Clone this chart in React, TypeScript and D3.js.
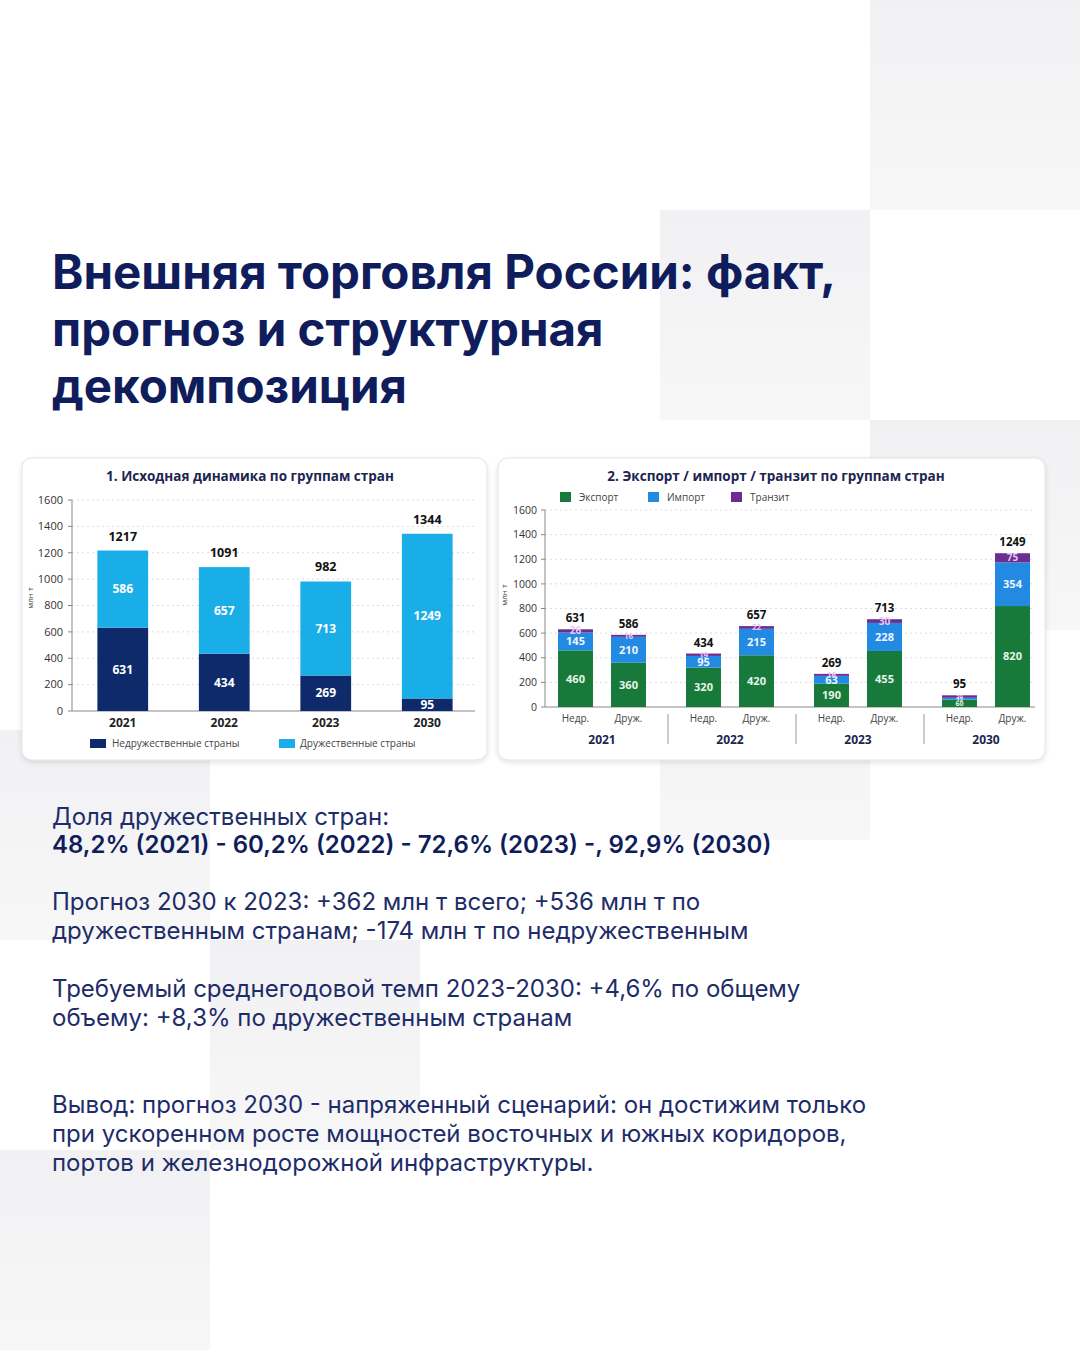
import React, { useEffect } from 'react';
import * as d3 from 'd3';

// Chart 1 — totals by country group
const years = ['2021', '2022', '2023', '2030'];
const unfriendly = [631, 434, 269, 95];
const friendly = [586, 657, 713, 1249];
const yTicks = [0, 200, 400, 600, 800, 1000, 1200, 1400, 1600];

// Chart 2 — export / import / transit per group
const subGroups = ['Недр.', 'Друж.'];
const exportVals = [460, 360, 320, 420, 190, 455, 60, 820];
const importVals = [145, 210, 95, 215, 63, 228, 15, 354];
const transitVals = [26, 16, 19, 22, 16, 30, 20, 75];

const titleLines = ['Внешняя торговля России: факт,', 'прогноз и структурная', 'декомпозиция'];

const NAVY = '#0f1d5c';
const TEXT = '#1e2c69';
const C_UNF = '#0f2a6b';
const C_FR = '#1aaee9';
const C_EXP = '#177a3b';
const C_IMP = '#238ae3';
const C_TR = '#6a2d92';
const CHART_FONT = '"Open Sans", "Noto Sans", sans-serif';

// background squares (x, y)
const squares = [
  [870, 0], [660, 210], [870, 420], [660, 630],
  [0, 730], [210, 940], [0, 1150],
];

function Chart1() {
  const y = d3.scaleLinear().domain([0, 1600]).range([711, 500]);
  const x = d3.scaleBand().domain(years).range([72, 478]).paddingInner(0.5).paddingOuter(0.25);
  const bw = x.bandwidth();
  return (
    <g fontFamily={CHART_FONT}>
      <rect x={22} y={458} width={465} height={302} rx={10} fill="#fff" stroke="#e4e4e8" filter="url(#cardShadow)" />
      <text x={250} y={481} textAnchor="middle" fontSize={13.5} fontWeight={700} fill="#1c2550">
        1. Исходная динамика по группам стран
      </text>
      {yTicks.map(t => (
        <g key={t}>
          {t > 0 && <line x1={72} x2={475} y1={y(t)} y2={y(t)} stroke="#dcdcdc" strokeDasharray="2,3" />}
          <line x1={68} x2={72} y1={y(t)} y2={y(t)} stroke="#888" />
          <text x={63} y={y(t)} dy="0.35em" textAnchor="end" fontSize={11} fill="#333">{t}</text>
        </g>
      ))}
      <line x1={72} x2={72} y1={500} y2={711} stroke="#888" />
      <line x1={72} x2={475} y1={711} y2={711} stroke="#888" />
      <text transform="translate(33,598) rotate(-90)" textAnchor="middle" fontSize={8} fill="#444">млн т</text>
      {years.map((yr, i) => {
        const x0 = x(yr)!;
        const tot = unfriendly[i] + friendly[i];
        return (
          <g key={yr}>
            <rect x={x0} y={y(unfriendly[i])} width={bw} height={y(0) - y(unfriendly[i])} fill={C_UNF} />
            <rect x={x0} y={y(tot)} width={bw} height={y(unfriendly[i]) - y(tot)} fill={C_FR} />
            <text x={x0 + bw / 2} y={(y(0) + y(unfriendly[i])) / 2} dy="0.35em" textAnchor="middle" fontSize={12} fontWeight={700} fill="#fff">{unfriendly[i]}</text>
            <text x={x0 + bw / 2} y={(y(unfriendly[i]) + y(tot)) / 2} dy="0.35em" textAnchor="middle" fontSize={12} fontWeight={700} fill="#fff">{friendly[i]}</text>
            <text x={x0 + bw / 2} y={y(tot) - 10} textAnchor="middle" fontSize={12.5} fontWeight={700} fill="#111">{tot}</text>
            <text x={x0 + bw / 2} y={727} textAnchor="middle" fontSize={12} fontWeight={700} fill="#222">{yr}</text>
          </g>
        );
      })}
      <rect x={90} y={739} width={16} height={9} fill={C_UNF} />
      <text x={112} y={743.5} dy="0.35em" fontSize={10} fill="#444">Недружественные страны</text>
      <rect x={279} y={739} width={16} height={9} fill={C_FR} />
      <text x={300} y={743.5} dy="0.35em" fontSize={10} fill="#444">Дружественные страны</text>
    </g>
  );
}

function Chart2() {
  const y = d3.scaleLinear().domain([0, 1600]).range([707, 510]);
  const xg = d3.scaleBand().domain(years).range([538, 1050]).padding(0);
  const xs = d3.scaleBand().domain(subGroups).range([11, 117]).paddingInner(0.34).paddingOuter(0.17);
  const bw = xs.bandwidth();
  const legend = [
    { label: 'Экспорт', color: C_EXP, x: 560 },
    { label: 'Импорт', color: C_IMP, x: 648 },
    { label: 'Транзит', color: C_TR, x: 731 },
  ];
  const cx = (gi: number, si: number) => xg(years[gi])! + xs(subGroups[si])! + bw / 2;
  return (
    <g fontFamily={CHART_FONT}>
      <rect x={498} y={458} width={547} height={302} rx={10} fill="#fff" stroke="#e4e4e8" filter="url(#cardShadow)" />
      <text x={776} y={481} textAnchor="middle" fontSize={13.5} fontWeight={700} fill="#1c2550">
        2. Экспорт / импорт / транзит по группам стран
      </text>
      {legend.map(l => (
        <g key={l.label}>
          <rect x={l.x} y={492} width={11} height={10} fill={l.color} />
          <text x={l.x + 19} y={497} dy="0.35em" fontSize={10} fill="#444">{l.label}</text>
        </g>
      ))}
      {yTicks.map(t => (
        <g key={t}>
          {t > 0 && <line x1={545} x2={1035} y1={y(t)} y2={y(t)} stroke="#dcdcdc" strokeDasharray="2,3" />}
          <line x1={541} x2={545} y1={y(t)} y2={y(t)} stroke="#888" />
          <text x={537} y={y(t)} dy="0.35em" textAnchor="end" fontSize={10.5} fill="#333">{t}</text>
        </g>
      ))}
      <line x1={545} x2={545} y1={510} y2={707} stroke="#888" />
      <line x1={545} x2={1035} y1={707} y2={707} stroke="#888" />
      <text transform="translate(507,595) rotate(-90)" textAnchor="middle" fontSize={8} fill="#444">млн т</text>
      {years.map((yr, gi) => (
        <g key={yr} transform={`translate(${xg(yr)},0)`}>
          {subGroups.map((sg, si) => {
            const i = gi * 2 + si;
            const e = exportVals[i], im = importVals[i], tr = transitVals[i];
            const tot = e + im + tr;
            const x0 = xs(sg)!;
            const c = x0 + bw / 2;
            const small = tot < 150;
            return (
              <g key={sg}>
                <rect x={x0} y={y(e)} width={bw} height={y(0) - y(e)} fill={C_EXP} />
                <rect x={x0} y={y(e + im)} width={bw} height={y(e) - y(e + im)} fill={C_IMP} />
                <rect x={x0} y={y(tot)} width={bw} height={y(e + im) - y(tot)} fill={C_TR} />
                <text x={c} y={(y(0) + y(e)) / 2} dy="0.35em" textAnchor="middle" fontSize={small ? 7 : 11} fontWeight={700} fill="#e8f5ea">{e}</text>
                <text x={c} y={(y(e) + y(e + im)) / 2} dy="0.35em" textAnchor="middle" fontSize={small ? 6 : 11} fontWeight={700} fill="#eef6ff">{im}</text>
                <text x={c} y={(y(e + im) + y(tot)) / 2} dy="0.35em" textAnchor="middle" fontSize={small ? 6 : tr < 25 ? 8 : 10} fontWeight={700} fill="#e9c6f6">{tr}</text>
                <text x={c} y={y(tot) - 7} textAnchor="middle" fontSize={11.5} fontWeight={700} fill="#111">{tot}</text>
                <text x={c} y={722} textAnchor="middle" fontSize={10} fill="#444">{sg}</text>
              </g>
            );
          })}
          <text x={xg.bandwidth() / 2} y={744} textAnchor="middle" fontSize={12} fontWeight={700} fill="#1c2550">{yr}</text>
        </g>
      ))}
      {[1, 2, 3].map(gi => {
        const sx = (cx(gi - 1, 1) + cx(gi, 0)) / 2 + 2;
        return <line key={gi} x1={sx} x2={sx} y1={714} y2={744} stroke="#999" />;
      })}
    </g>
  );
}

export default function App() {
  useEffect(() => {
    document.body.style.margin = '0';
  }, []);

  const body: { text: string; y: number; bold?: boolean }[] = [
    { text: 'Доля дружественных стран:', y: 825 },
    { text: '48,2% (2021) - 60,2% (2022) - 72,6% (2023) -, 92,9% (2030)', y: 853, bold: true },
    { text: 'Прогноз 2030 к 2023: +362 млн т всего; +536 млн т по', y: 910 },
    { text: 'дружественным странам; -174 млн т по недружественным', y: 939 },
    { text: 'Требуемый среднегодовой темп 2023-2030: +4,6% по общему', y: 997 },
    { text: 'объему: +8,3% по дружественным странам', y: 1026 },
    { text: 'Вывод: прогноз 2030 - напряженный сценарий: он достижим только', y: 1113 },
    { text: 'при ускоренном росте мощностей восточных и южных коридоров,', y: 1142 },
    { text: 'портов и железнодорожной инфраструктуры.', y: 1171 },
  ];

  return (
    <svg width={1080} height={1350} style={{ display: 'block' }}>
      <defs>
        <linearGradient id="sq" x1="0" y1="0" x2="0" y2="1">
          <stop offset="0" stopColor="#f1f1f3" />
          <stop offset="1" stopColor="#f7f7f8" />
        </linearGradient>
        <filter id="cardShadow" x="-5%" y="-5%" width="110%" height="115%">
          <feDropShadow dx="0" dy="2" stdDeviation="2.5" floodColor="#000" floodOpacity="0.12" />
        </filter>
      </defs>
      <rect width={1080} height={1350} fill="#fff" />
      {squares.map(([sx, sy], i) => (
        <rect key={i} x={sx} y={sy} width={210} height={210} fill="url(#sq)" />
      ))}
      <g fontFamily="Inter, sans-serif" fontWeight={700} fontSize={47.5} fill={NAVY}>
        {titleLines.map((l, i) => (
          <text key={i} x={52} y={289 + i * 57}>{l}</text>
        ))}
      </g>
      <Chart1 />
      <Chart2 />
      <g fontFamily="Inter, sans-serif" fontSize={24} fill={TEXT}>
        {body.map((b, i) => (
          <text key={i} x={52} y={b.y} fontWeight={b.bold ? 600 : 400} fill={b.bold ? NAVY : TEXT}>{b.text}</text>
        ))}
      </g>
    </svg>
  );
}
